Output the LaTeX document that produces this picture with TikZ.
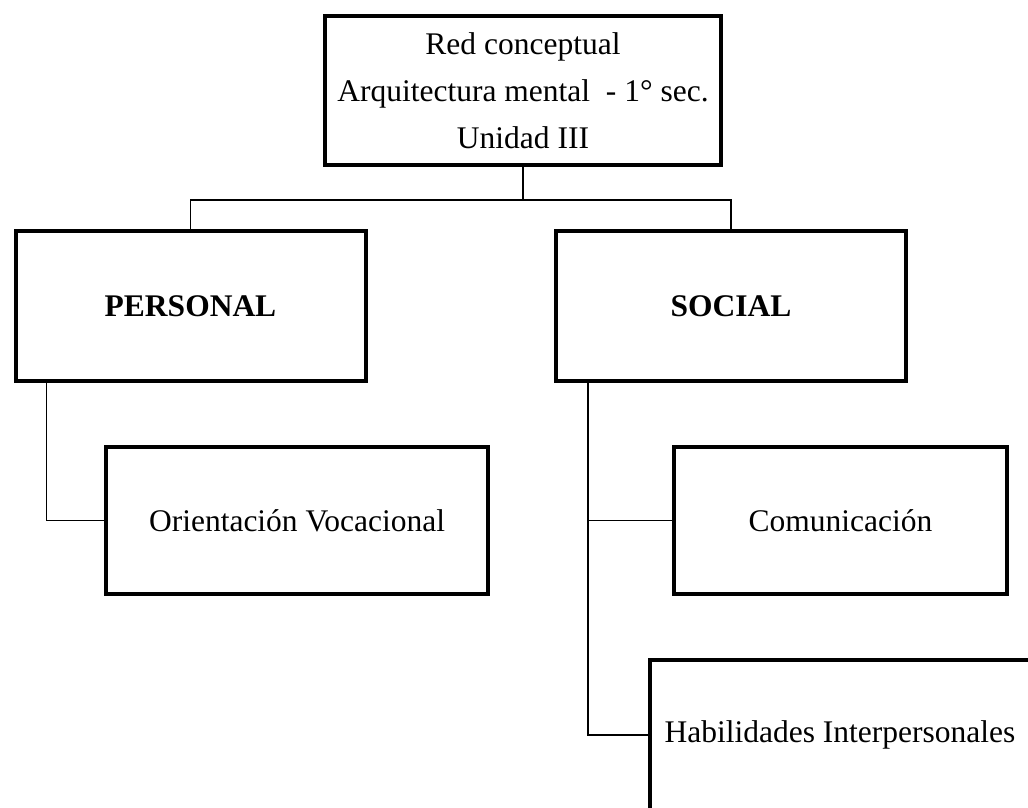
\documentclass[tikz,border=0pt]{standalone}
\usepackage{fontspec}
\setmainfont{Liberation Serif}
\usepackage{tikz}
\usetikzlibrary{positioning,calc}

\begin{document}
\begin{tikzpicture}[
  x=1pt, y=1pt,
  box/.style={draw, line width=4pt, align=center, inner sep=0pt,
              font=\fontsize{31.5}{47}\selectfont},
  hdr/.style={box, minimum width=396pt, minimum height=149pt},
  cat/.style={box, minimum width=350pt, minimum height=150pt, font=\fontsize{31.5}{47}\selectfont\bfseries},
  sub/.style={box, minimum height=147pt},
  ln/.style={line width=1.3pt}
]
\clip (0,0) rectangle (1028,808);

\node[hdr] (red) at (523,717.5) {Red conceptual\\Arquitectura mental~ - 1° sec.\\Unidad III};
\node[cat] (pers) at (190.5,502) {PERSONAL};
\node[cat] (soc) at (731,502) {SOCIAL};
\node[sub, minimum width=382pt] (orient) at (297,287.5) {Orientación Vocacional};
\node[sub, minimum width=333pt] (comun) at (840.5,287.5) {Comunicación};
\node[sub, minimum width=380pt, minimum height=150pt] (habil) at (840,73) {Habilidades Interpersonales};

% top level split
\draw[ln] (red.south) -- ++(0,-33) coordinate (split);
\draw[ln] (pers.north) |- (split) -| (soc.north);

% branches
\coordinate (ptrunk) at ([xshift=33pt]pers.south west);
\coordinate (strunk) at ([xshift=34pt]soc.south west);
\draw[ln] (ptrunk) |- (orient.west);
\draw[ln] (strunk) |- (habil.west);
\draw[ln] (comun.west) -- (comun.west -| strunk);
\end{tikzpicture}
\end{document}
